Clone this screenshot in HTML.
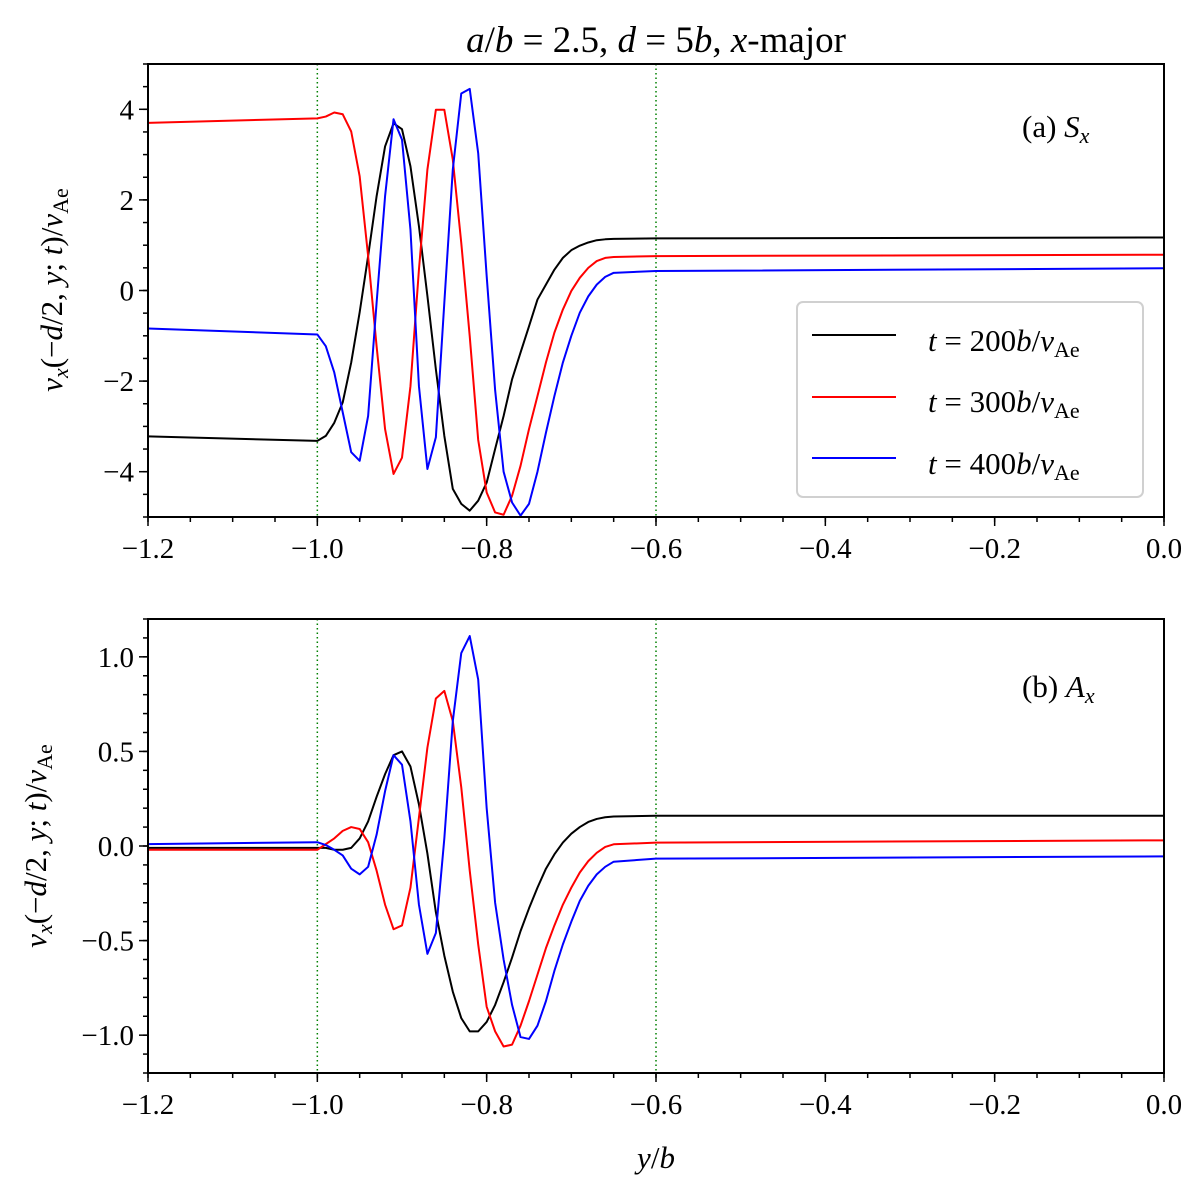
<!DOCTYPE html>
<html><head><meta charset="utf-8"><style>
html,body{margin:0;padding:0;background:#fff;}
svg, svg text, svg tspan{font-family:"Liberation Serif","Times New Roman",Times,serif !important;}
</style></head><body>
<svg id="fig" width="1200" height="1188" viewBox="0 0 1200 1188" xmlns="http://www.w3.org/2000/svg" font-family="'Liberation Serif', 'Times New Roman', Times, serif">
<text x="656" y="52" font-size="37" text-anchor="middle"><tspan font-style="italic">a</tspan>/<tspan font-style="italic">b</tspan> = 2.5, <tspan font-style="italic">d</tspan> = 5<tspan font-style="italic">b</tspan>, <tspan font-style="italic">x</tspan>-major</text>
<g id="pa"></g>
<g id="pb"></g>
<text x="1022" y="137" font-size="31">(a) <tspan font-style="italic">S</tspan><tspan font-style="italic" font-size="22" dy="6">x</tspan></text>
<text x="1022" y="697" font-size="31">(b) <tspan font-style="italic">A</tspan><tspan font-style="italic" font-size="22" dy="6">x</tspan></text>
<text transform="translate(62,290) rotate(-90)" font-size="31" text-anchor="middle"><tspan font-style="italic">v</tspan><tspan font-style="italic" font-size="22" dy="6">x</tspan><tspan dy="-6">(−</tspan><tspan font-style="italic">d</tspan>/2, <tspan font-style="italic">y</tspan>; <tspan font-style="italic">t</tspan>)/<tspan font-style="italic">v</tspan><tspan font-size="22" dy="6">Ae</tspan></text>
<text transform="translate(46,846) rotate(-90)" font-size="31" text-anchor="middle"><tspan font-style="italic">v</tspan><tspan font-style="italic" font-size="22" dy="6">x</tspan><tspan dy="-6">(−</tspan><tspan font-style="italic">d</tspan>/2, <tspan font-style="italic">y</tspan>; <tspan font-style="italic">t</tspan>)/<tspan font-style="italic">v</tspan><tspan font-size="22" dy="6">Ae</tspan></text>
<text x="656" y="1168" font-size="31" text-anchor="middle"><tspan font-style="italic">y</tspan>/<tspan font-style="italic">b</tspan></text>
<g>
<rect x="797" y="302" width="346" height="195" rx="6" fill="#fff" stroke="#d0d0d0" stroke-width="2"/>
<line x1="812" y1="335" x2="896" y2="335" stroke="#000" stroke-width="2"/>
<line x1="812" y1="397" x2="896" y2="397" stroke="#f00" stroke-width="2"/>
<line x1="812" y1="458" x2="896" y2="458" stroke="#00f" stroke-width="2"/>
<text x="928" y="351" font-size="31"><tspan font-style="italic">t</tspan> = 200<tspan font-style="italic">b</tspan>/<tspan font-style="italic">v</tspan><tspan font-size="22" dy="6">Ae</tspan></text>
<text x="928" y="412" font-size="31"><tspan font-style="italic">t</tspan> = 300<tspan font-style="italic">b</tspan>/<tspan font-style="italic">v</tspan><tspan font-size="22" dy="6">Ae</tspan></text>
<text x="928" y="474" font-size="31"><tspan font-style="italic">t</tspan> = 400<tspan font-style="italic">b</tspan>/<tspan font-style="italic">v</tspan><tspan font-size="22" dy="6">Ae</tspan></text>
</g>
</svg>
<script>
const yGrid = [-1.2,-1.00,-0.99,-0.98,-0.97,-0.96,-0.95,-0.94,-0.93,-0.92,-0.91,-0.90,-0.89,-0.88,-0.87,-0.86,-0.85,-0.84,-0.83,-0.82,-0.81,-0.80,-0.79,-0.78,-0.77,-0.76,-0.75,-0.74,-0.73,-0.72,-0.71,-0.70,-0.69,-0.68,-0.67,-0.66,-0.65,-0.60,0.0];
const sT200 = [-3.22,-3.32,-3.21,-2.92,-2.47,-1.59,-0.48,0.76,2.08,3.18,3.69,3.56,2.74,1.42,-0.12,-1.74,-3.21,-4.38,-4.71,-4.86,-4.64,-4.24,-3.5,-2.77,-1.96,-1.37,-0.79,-0.20,0.13,0.46,0.72,0.89,0.99,1.06,1.11,1.13,1.14,1.15,1.17];
const sT300 = [3.70,3.80,3.84,3.93,3.89,3.51,2.52,0.76,-1.23,-3.06,-4.05,-3.69,-2.11,0.46,2.67,3.99,3.99,2.89,1.05,-1.01,-3.3,-4.46,-4.9,-4.95,-4.53,-3.87,-3.06,-2.33,-1.59,-0.93,-0.42,-0.01,0.28,0.50,0.65,0.72,0.74,0.76,0.79];
const sT400 = [-0.84,-0.97,-1.23,-1.81,-2.69,-3.57,-3.76,-2.77,-0.27,2.08,3.78,3.33,1.34,-2.11,-3.94,-3.24,-0.27,2.67,4.35,4.45,3.03,0.32,-2.2,-4.0,-4.68,-4.97,-4.71,-4.0,-3.14,-2.33,-1.59,-1.0,-0.49,-0.13,0.13,0.30,0.39,0.43,0.49];
const aT200 = [-0.01,-0.01,-0.01,-0.02,-0.02,-0.01,0.04,0.13,0.26,0.38,0.48,0.50,0.42,0.22,-0.04,-0.35,-0.58,-0.77,-0.91,-0.98,-0.98,-0.93,-0.84,-0.72,-0.59,-0.45,-0.33,-0.22,-0.12,-0.044,0.018,0.065,0.10,0.127,0.143,0.152,0.156,0.16,0.16];
const aT300 = [-0.02,-0.02,0.01,0.04,0.08,0.10,0.09,0.02,-0.13,-0.31,-0.44,-0.42,-0.22,0.15,0.52,0.78,0.82,0.66,0.31,-0.13,-0.52,-0.85,-0.98,-1.06,-1.05,-0.95,-0.82,-0.68,-0.54,-0.42,-0.31,-0.22,-0.14,-0.08,-0.036,-0.005,0.009,0.018,0.03];
const aT400 = [0.01,0.02,0.005,-0.02,-0.05,-0.12,-0.15,-0.11,0.06,0.29,0.48,0.43,0.13,-0.31,-0.57,-0.46,0.04,0.66,1.02,1.11,0.88,0.2,-0.3,-0.6,-0.84,-1.01,-1.02,-0.95,-0.82,-0.66,-0.52,-0.40,-0.29,-0.21,-0.15,-0.11,-0.083,-0.067,-0.055];
const xTicks = [-1.2,-1.0,-0.8,-0.6,-0.4,-0.2,0.0];
const xTickLabels = ["−1.2","−1.0","−0.8","−0.6","−0.4","−0.2","0.0"];
const aYTicks = [-4,-2,0,2,4];
const aYTickLabels = ["−4","−2","0","2","4"];
const bYTicks = [-1.0,-0.5,0.0,0.5,1.0];
const bYTickLabels = ["−1.0","−0.5","0.0","0.5","1.0"];
const vLines = [-1.0,-0.6];

const NS="http://www.w3.org/2000/svg";
function mk(tag, attrs, parent){const e=document.createElementNS(NS,tag);for(const k in attrs)e.setAttribute(k,attrs[k]);parent.appendChild(e);return e;}

function panel(g, top, bottom, ymin, ymax, yTicks, yLabels, yMinorStep, series, tag){
  const L=148,R=1164;
  const sx=v=>L+(v-(-1.2))/(1.2)*(R-L);
  const sy=v=>bottom-(v-ymin)/(ymax-ymin)*(bottom-top);
  const clipId="clip"+tag;
  const cp=mk("clipPath",{id:clipId},g);
  mk("rect",{x:L,y:top,width:R-L,height:bottom-top},cp);
  for(const v of vLines){
    const ln=mk("line",{x1:sx(v),x2:sx(v),y1:top,y2:bottom,stroke:"#008000","stroke-width":1.5,"stroke-dasharray":"1.5,3"},g);
    
    
  }
  const colors=["#000","#f00","#00f"];
  const names=["t200","t300","t400"];
  series.forEach((s,i)=>{
    const d=s.map((v,j)=>(j?"L":"M")+sx(yGrid[j]).toFixed(2)+","+sy(v).toFixed(2)).join(" ");
    const p=mk("path",{d:d,fill:"none",stroke:colors[i],"stroke-width":2,"clip-path":"url(#"+clipId+")","stroke-linejoin":"round"},g);
    
    
  });
  const fr=mk("rect",{x:L,y:top,width:R-L,height:bottom-top,fill:"none",stroke:"#000","stroke-width":2},g);
  
  
  for(let v=-1.2;v<=0.0001;v+=0.05){mk("line",{x1:sx(v),x2:sx(v),y1:bottom,y2:bottom+5,stroke:"#000","stroke-width":1.5},g);}
  xTicks.forEach((v,i)=>{
    mk("line",{x1:sx(v),x2:sx(v),y1:bottom,y2:bottom+9,stroke:"#000","stroke-width":1.5},g);
    const t=mk("text",{x:sx(v),y:bottom+41,"font-size":29,"text-anchor":"middle"},g);
    t.textContent=xTickLabels[i];
    
    
  });
  for(let v=Math.ceil(ymin/yMinorStep-1e-9)*yMinorStep;v<=ymax+1e-9;v+=yMinorStep){mk("line",{x1:L-5,x2:L,y1:sy(v),y2:sy(v),stroke:"#000","stroke-width":1.5},g);}
  yTicks.forEach((v,i)=>{
    mk("line",{x1:L-9,x2:L,y1:sy(v),y2:sy(v),stroke:"#000","stroke-width":1.5},g);
    const t=mk("text",{x:L-14,y:sy(v)+10,"font-size":29,"text-anchor":"end"},g);
    t.textContent=yLabels[i];
    
    
  });
}
panel(document.getElementById("pa"),64,517,-5,5,aYTicks,aYTickLabels,0.5,[sT200,sT300,sT400],"a");
panel(document.getElementById("pb"),619,1073,-1.2,1.2,bYTicks,bYTickLabels,0.1,[aT200,aT300,aT400],"b");
</script>
</body></html>
